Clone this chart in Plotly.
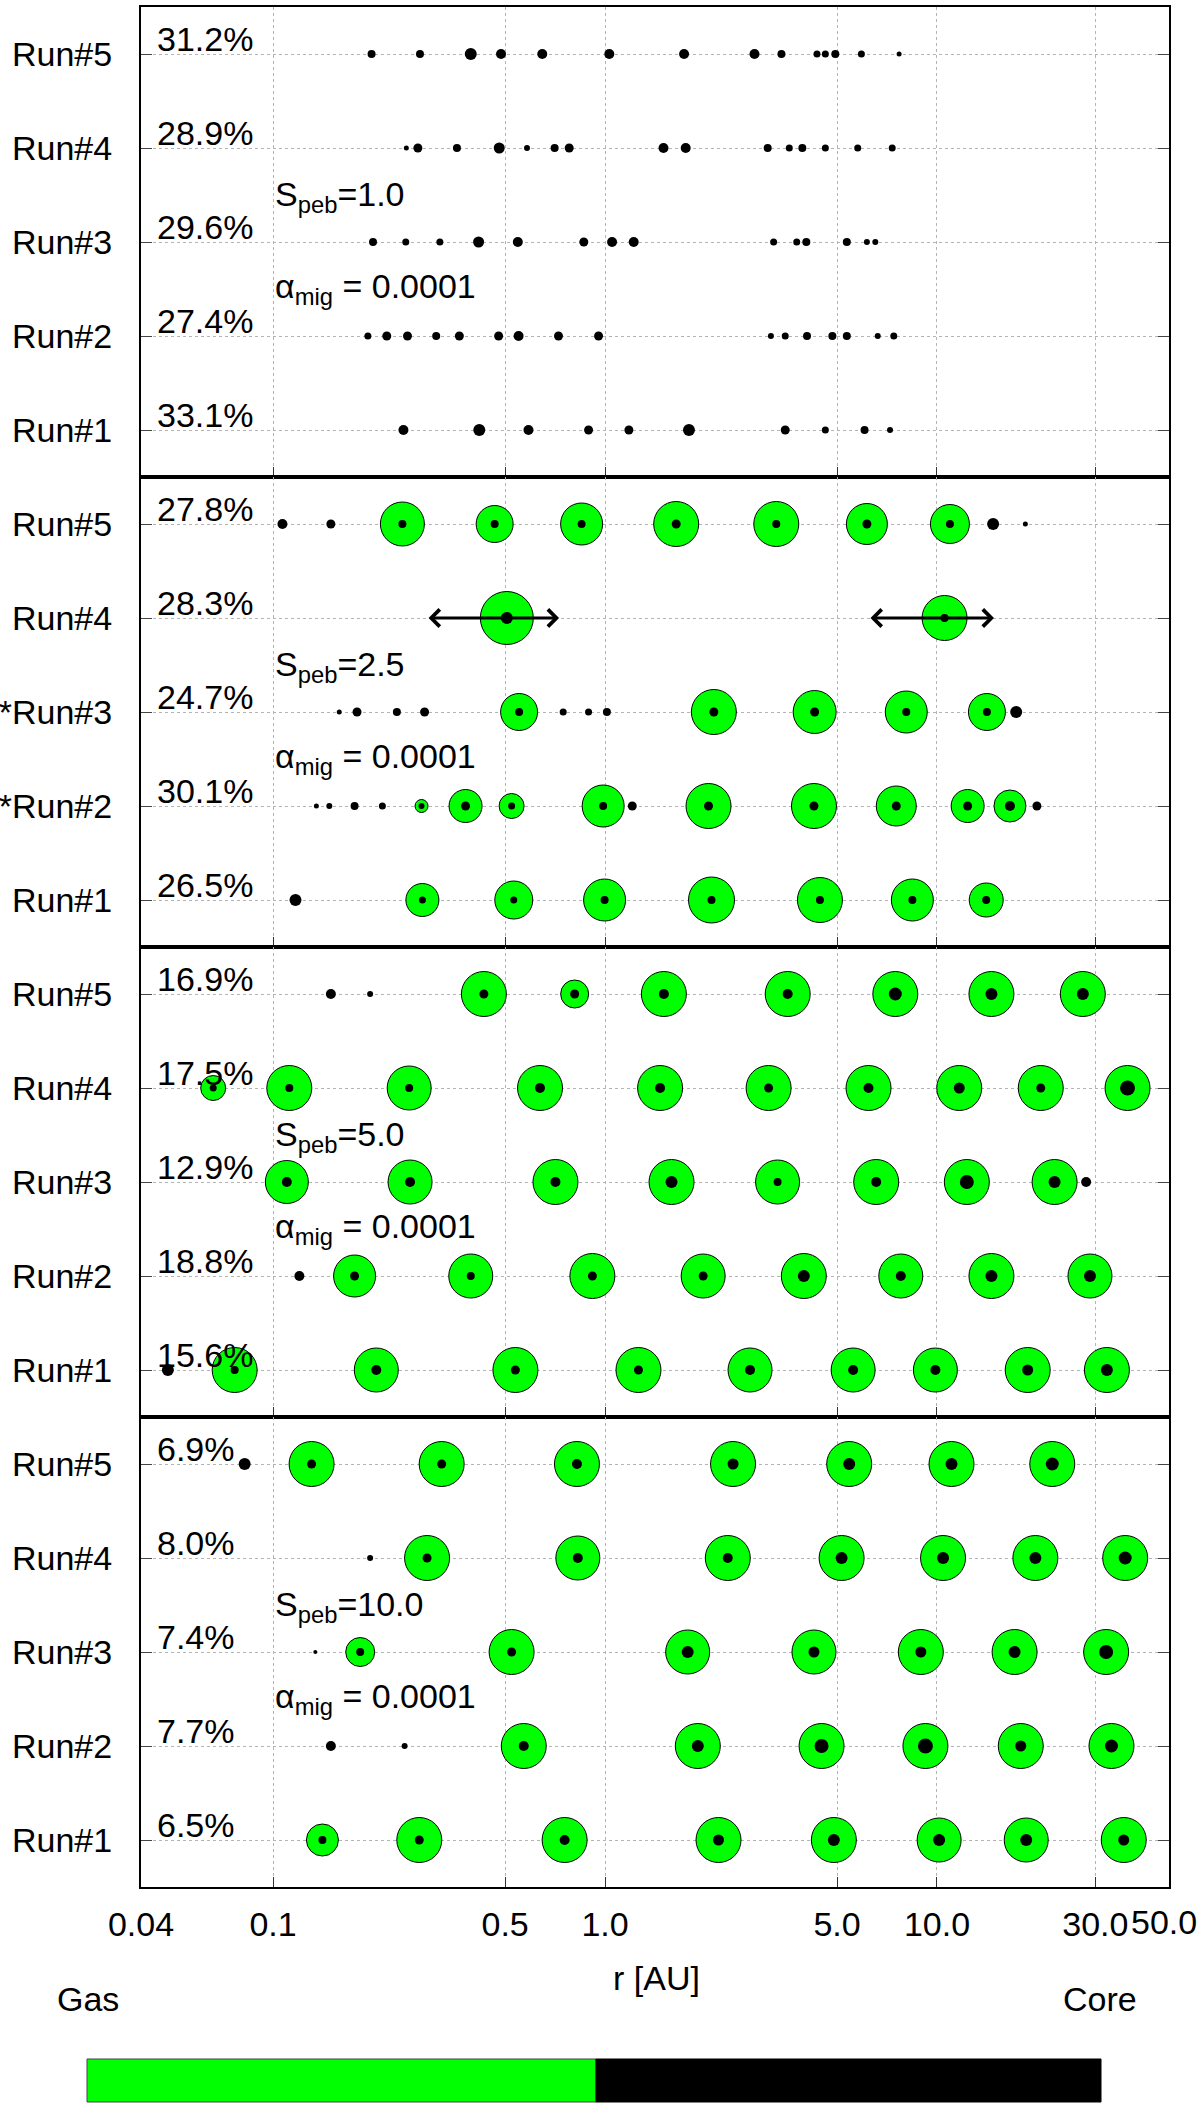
import numpy as np
import plotly.graph_objects as go
from plotly.subplots import make_subplots

FONT = "Liberation Sans, Arial, Helvetica, sans-serif"
FS = 34

# ---------------- data ----------------
x_tickvals = [0.04, 0.1, 0.5, 1.0, 5.0, 10.0, 30.0, 50.0]
x_ticktext = ["0.04", "0.1", "0.5", "1.0", "5.0", "10.0", "30.0", "50.0"]
runs = [1, 2, 3, 4, 5]

speb_values = ["1.0", "2.5", "5.0", "10.0"]
alpha_mig = "0.0001"

labels_speb1 = ["Run#1", "Run#2", "Run#3", "Run#4", "Run#5"]
labels_speb2 = ["Run#1", "*Run#2", "*Run#3", "Run#4", "Run#5"]
labels_speb5 = ["Run#1", "Run#2", "Run#3", "Run#4", "Run#5"]
labels_speb10 = ["Run#1", "Run#2", "Run#3", "Run#4", "Run#5"]

pct_speb1 = [33.1, 27.4, 29.6, 28.9, 31.2]
pct_speb2 = [26.5, 30.1, 24.7, 28.3, 27.8]
pct_speb5 = [15.6, 18.8, 12.9, 17.5, 16.9]
pct_speb10 = [6.5, 7.7, 7.4, 8.0, 6.9]

# planet semi-major axes [AU], envelope (gas) marker diameter, core marker diameter
r_speb1 = {
    5: [0.198, 0.277, 0.394, 0.486, 0.647, 1.03, 1.73, 2.82, 3.40, 4.35, 4.61, 4.94, 5.92, 7.69],
    4: [0.252, 0.273, 0.358, 0.480, 0.582, 0.705, 0.780, 1.50, 1.75, 3.09, 3.59, 3.93, 4.61, 5.77, 7.33],
    3: [0.200, 0.251, 0.318, 0.416, 0.546, 0.863, 1.05, 1.22, 3.22, 3.78, 4.04, 5.35, 6.15, 6.52],
    2: [0.193, 0.220, 0.254, 0.310, 0.364, 0.478, 0.549, 0.724, 0.956, 3.16, 3.49, 4.06, 4.84, 5.35, 6.63, 7.41],
    1: [0.247, 0.418, 0.588, 0.892, 1.18, 1.79, 3.49, 4.61, 6.05, 7.22],
}
env_speb1 = {k: [0] * len(v) for k, v in r_speb1.items()}
core_speb1 = {
    5: [8, 8, 12, 10, 10, 10, 10, 10, 8, 7, 7, 8, 7, 5],
    4: [5, 9, 8, 11, 6, 8, 9, 10, 10, 8, 7, 8, 7, 7, 7],
    3: [8, 7, 7, 11, 10, 9, 10, 10, 7, 7, 8, 8, 6, 6],
    2: [7, 9, 9, 8, 9, 9, 10, 9, 9, 6, 7, 8, 8, 8, 6, 7],
    1: [10, 12, 10, 9, 9, 12, 9, 7, 8, 6],
}

r_speb2 = {
    5: [0.1067, 0.1493, 0.2452, 0.465, 0.850, 1.638, 3.28, 6.15, 10.94, 14.76, 18.46],
    4: [0.506, 10.54],
    3: [0.1582, 0.179, 0.236, 0.286, 0.551, 0.748, 0.892, 1.013, 2.127, 4.28, 8.08, 14.14, 17.32],
    2: [0.135, 0.1477, 0.176, 0.2134, 0.280, 0.380, 0.523, 0.987, 1.208, 2.05, 4.26, 7.54, 12.37, 16.59, 20.0],
    1: [0.1168, 0.2817, 0.531, 0.997, 2.093, 4.44, 8.43, 14.07],
}
env_speb2 = {
    5: [0, 0, 44, 37, 42, 45, 45, 41, 39, 0, 0],
    4: [53, 45],
    3: [0, 0, 0, 0, 37, 0, 0, 0, 45, 43, 42, 37, 0],
    2: [0, 0, 0, 0, 13, 33, 25, 42, 0, 45, 45, 40, 33, 32, 0],
    1: [0, 33, 38, 42, 46, 45, 42, 34],
}
core_speb2 = {
    5: [10, 9, 8, 8, 8, 9, 8, 9, 8, 12, 5],
    4: [12, 8],
    3: [5, 9, 8, 9, 8, 7, 7, 8, 9, 9, 8, 8, 12],
    2: [5, 6, 8, 7, 6, 9, 7, 8, 9, 9, 9, 9, 9, 10, 9],
    1: [12, 7, 7, 8, 8, 8, 8, 8],
}
# migration range of the two planets marked with arrows (S_peb=2.5, Run#4)
arrow_speb2_run4 = [(0.291, 0.727), (6.24, 14.85)]

r_speb5 = {
    5: [0.1493, 0.196, 0.4315, 0.810, 1.504, 3.55, 7.49, 14.59, 27.5],
    4: [0.066, 0.1119, 0.257, 0.637, 1.465, 3.11, 6.22, 11.67, 20.54, 37.5],
    3: [0.110, 0.2586, 0.709, 1.586, 3.31, 6.56, 12.30, 22.61, 28.14],
    2: [0.120, 0.176, 0.394, 0.916, 1.975, 3.97, 7.78, 14.59, 28.9],
    1: [0.0482, 0.0766, 0.2046, 0.537, 1.261, 2.734, 5.59, 9.89, 18.76, 32.5],
}
env_speb5 = {
    5: [0, 0, 45, 28, 45, 45, 45, 45, 45],
    4: [25, 45, 44, 45, 45, 45, 45, 45, 45, 45],
    3: [43, 44, 45, 45, 44, 45, 45, 45, 0],
    2: [0, 42, 44, 45, 44, 45, 44, 45, 44],
    1: [0, 45, 44, 45, 45, 44, 44, 44, 45, 45],
}
core_speb5 = {
    5: [10, 6, 9, 9, 10, 10, 13, 12, 12],
    4: [7, 8, 8, 10, 10, 9, 10, 11, 9, 15],
    3: [10, 10, 10, 12, 8, 10, 14, 12, 10],
    2: [10, 9, 8, 9, 9, 12, 10, 12, 12],
    1: [12, 8, 10, 9, 9, 10, 10, 10, 11, 12],
}

r_speb10 = {
    5: [0.0821, 0.1306, 0.322, 0.823, 2.43, 5.44, 11.06, 22.25],
    4: [0.196, 0.291, 0.828, 2.343, 5.16, 10.43, 19.79, 36.9],
    3: [0.134, 0.183, 0.523, 1.774, 4.26, 8.94, 17.13, 32.33],
    2: [0.1493, 0.249, 0.569, 1.903, 4.49, 9.23, 17.88, 33.55],
    1: [0.1408, 0.2757, 0.7555, 2.197, 4.89, 10.15, 18.57, 36.53],
}
env_speb10 = {
    5: [0, 45, 45, 45, 45, 45, 45, 45],
    4: [0, 45, 44, 45, 45, 45, 45, 45],
    3: [0, 29, 45, 44, 44, 45, 45, 45],
    2: [0, 0, 45, 45, 45, 45, 45, 45],
    1: [32, 45, 45, 45, 45, 44, 44, 45],
}
core_speb10 = {
    5: [12, 9, 9, 10, 11, 12, 12, 13],
    4: [6, 9, 10, 10, 12, 12, 12, 13],
    3: [4, 8, 9, 12, 11, 11, 12, 14],
    2: [10, 6, 10, 12, 14, 15, 11, 13],
    1: [8, 9, 10, 11, 12, 12, 12, 11],
}

panels = [
    (r_speb1, env_speb1, core_speb1, labels_speb1, pct_speb1, speb_values[0]),
    (r_speb2, env_speb2, core_speb2, labels_speb2, pct_speb2, speb_values[1]),
    (r_speb5, env_speb5, core_speb5, labels_speb5, pct_speb5, speb_values[2]),
    (r_speb10, env_speb10, core_speb10, labels_speb10, pct_speb10, speb_values[3]),
]

# ---------------- figure ----------------
W, H = 1200, 2106
ML, MR, MT, MB = 141, 31, 7, 219
fig = make_subplots(rows=4, cols=1, vertical_spacing=0)

GREEN = "#00ff00"
annotations = []

# last tick label (at the right frame edge) is drawn right-aligned so it stays inside the page
axis_ticktext = x_ticktext[:-1] + [""]

for i, (rd, ed, cd, labels, pct, speb) in enumerate(panels):
    row = i + 1
    sfx = "" if row == 1 else str(row)
    xr, yr = "x" + sfx, "y" + sfx
    for run in runs:
        rr = rd[run]
        env = ed[run]
        core = cd[run]
        ex = [r for r, e in zip(rr, env) if e > 0]
        es = [e for e in env if e > 0]
        if ex:
            fig.add_trace(go.Scatter(
                x=ex, y=[run] * len(ex), mode="markers",
                marker=dict(size=es, color=GREEN, opacity=1,
                            line=dict(color="black", width=1)),
                hoverinfo="skip", showlegend=False), row=row, col=1)
        fig.add_trace(go.Scatter(
            x=rr, y=[run] * len(rr), mode="markers",
            marker=dict(size=core, color="black", opacity=1, line=dict(width=0)),
            hoverinfo="skip", showlegend=False), row=row, col=1)
        annotations.append(dict(
            x=-1.355, y=run, xref=xr, yref=yr, text=f"{pct[run - 1]:.1f}%",
            showarrow=False, xanchor="left", yanchor="bottom", yshift=-6,
            font=dict(family=FONT, size=FS, color="black")))
    annotations.append(dict(
        x=-1.0, y=3, xref=xr, yref=yr, text=f"S<sub>peb</sub>={speb}",
        showarrow=False, xanchor="left", yanchor="bottom", yshift=22,
        font=dict(family=FONT, size=FS, color="black")))
    annotations.append(dict(
        x=-1.0, y=2, xref=xr, yref=yr, text=f"α<sub>mig</sub> = {alpha_mig}",
        showarrow=False, xanchor="left", yanchor="bottom", yshift=24,
        font=dict(family=FONT, size=FS, color="black")))

    fig.update_xaxes(
        type="log", range=[np.log10(0.04), np.log10(50)],
        tickvals=x_tickvals, ticktext=axis_ticktext,
        showticklabels=(row == 4), ticklabeloverflow="allow",
        showgrid=True, gridcolor="#b4b4b4", griddash="dot", gridwidth=1,
        showline=True, linecolor="black", linewidth=2, mirror=True,
        ticks="inside", ticklen=10, tickcolor="#333333", tickwidth=1,
        tickfont=dict(family=FONT, size=FS, color="black"),
        ticklabelstandoff=6, automargin=False,
        zeroline=False, row=row, col=1)
    fig.update_yaxes(
        range=[0.5, 5.5], tickvals=runs, ticktext=labels,
        showgrid=True, gridcolor="#b4b4b4", griddash="dot", gridwidth=1,
        showline=True, linecolor="black", linewidth=2, mirror="ticks",
        ticks="inside", ticklen=11, tickcolor="#444444", tickwidth=1,
        tickfont=dict(family=FONT, size=FS, color="black"),
        ticklabelstandoff=20, automargin=False,
        zeroline=False, row=row, col=1)

# migration arrows in S_peb=2.5, Run#4
for a, b in arrow_speb2_run4:
    annotations.append(dict(
        x=np.log10(b), y=4, ax=np.log10(a), ay=4,
        xref="x2", yref="y2", axref="x2", ayref="y2",
        text="", showarrow=True, arrowhead=4, startarrowhead=4,
        arrowside="end+start", arrowwidth=3, arrowsize=1.1, startarrowsize=1.1,
        arrowcolor="black", standoff=0, startstandoff=0))

# pixel -> paper helpers for the outside elements
PW = W - ML - MR
PH = H - MT - MB
def px(xp):
    return (xp - ML) / PW
def py(yp):
    return (H - MB - yp) / PH

annotations.append(dict(x=px(1199), y=py(1922), xref="paper", yref="paper", text=x_ticktext[-1],
                        showarrow=False, xanchor="right", yanchor="middle",
                        font=dict(family=FONT, size=FS, color="black")))
annotations.append(dict(x=px(656), y=py(1978), xref="paper", yref="paper", text="r [AU]",
                        showarrow=False, xanchor="center", yanchor="middle",
                        font=dict(family=FONT, size=FS, color="black")))
annotations.append(dict(x=px(55), y=py(1999), xref="paper", yref="paper", text="Gas",
                        showarrow=False, xanchor="left", yanchor="middle",
                        font=dict(family=FONT, size=FS, color="black")))
annotations.append(dict(x=px(1139), y=py(1999), xref="paper", yref="paper", text="Core",
                        showarrow=False, xanchor="right", yanchor="middle",
                        font=dict(family=FONT, size=FS, color="black")))

shapes = [
    dict(type="rect", xref="paper", yref="paper", x0=px(87), x1=px(596), y0=py(2102), y1=py(2059),
         fillcolor=GREEN, line=dict(color="#444444", width=1), layer="above"),
    dict(type="rect", xref="paper", yref="paper", x0=px(596), x1=px(1101), y0=py(2102), y1=py(2059),
         fillcolor="black", line=dict(color="black", width=1), layer="above"),
]

fig.update_layout(
    width=W, height=H,
    margin=dict(l=ML, r=MR, t=MT, b=MB, autoexpand=False),
    paper_bgcolor="white", plot_bgcolor="white",
    showlegend=False,
    annotations=annotations,
    shapes=shapes,
    font=dict(family=FONT, size=FS, color="black"),
)

fig.write_html("out.html", config={"displayModeBar": False},
               post_script="document.body.style.margin='0px';")
